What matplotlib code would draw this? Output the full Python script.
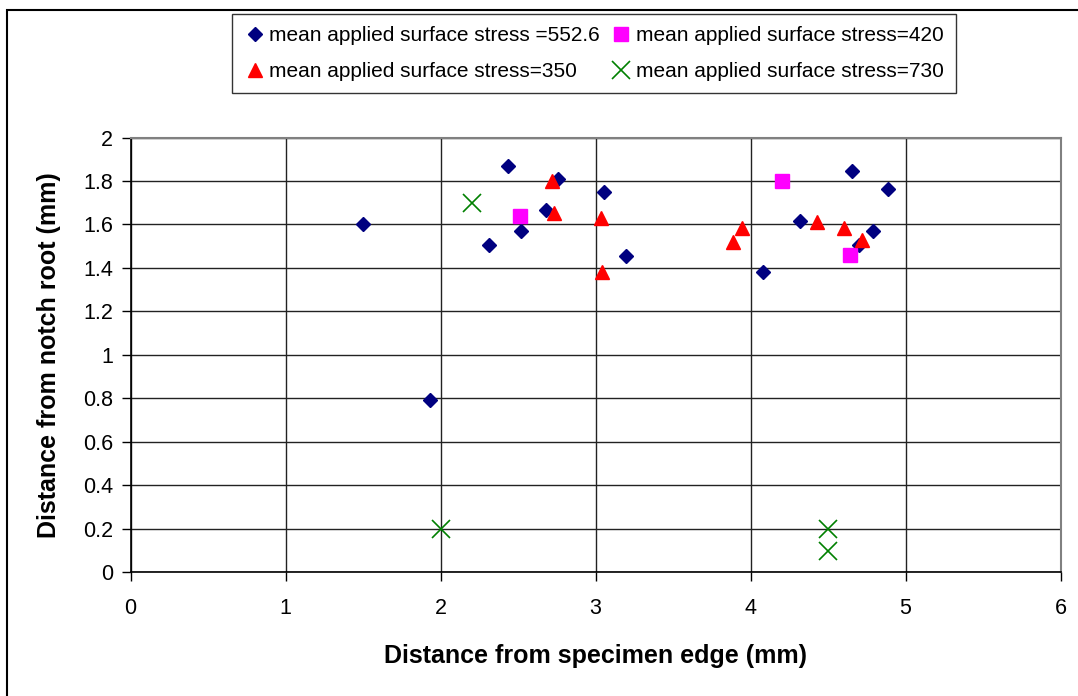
import matplotlib
matplotlib.use('Agg')
import matplotlib.pyplot as plt
from matplotlib.patches import Rectangle

plt.rcParams['font.family'] = ['Liberation Sans', 'DejaVu Sans']

# mean applied surface stress = 552.6
x_5526 = [1.50, 1.935, 2.31, 2.434, 2.52, 2.68, 2.76, 3.055, 3.195, 4.08, 4.32, 4.655, 4.70, 4.79, 4.89]
y_5526 = [1.60, 0.793, 1.505, 1.87, 1.57, 1.665, 1.81, 1.75, 1.455, 1.38, 1.615, 1.845, 1.505, 1.57, 1.765]

# mean applied surface stress = 420
x_420 = [2.51, 4.205, 4.64]
y_420 = [1.64, 1.80, 1.46]

# mean applied surface stress = 350
x_350 = [2.72, 2.73, 3.035, 3.045, 3.89, 3.945, 4.43, 4.605, 4.72]
y_350 = [1.80, 1.655, 1.63, 1.38, 1.52, 1.585, 1.61, 1.585, 1.53]

# mean applied surface stress = 730
x_730 = [2.2, 2.0, 4.5, 4.5]
y_730 = [1.7, 0.2, 0.2, 0.1]

labels = ['mean applied surface stress =552.6', 'mean applied surface stress=420',
          'mean applied surface stress=350', 'mean applied surface stress=730']

fig = plt.figure(figsize=(10.78, 6.96), dpi=100)

# cornice esterna del grafico
fig.patches.append(Rectangle((7 / 1078, -0.1), 1.2, 1.1 - 10 / 696, transform=fig.transFigure,
                             fill=False, edgecolor='black', linewidth=1.5, zorder=0))

ax = fig.add_axes([130.5 / 1078, 1 - 572.3 / 696, 930 / 1078, (572.3 - 137.5) / 696])

h1, = ax.plot(x_5526, y_5526, linestyle='none', marker='D', ms=7, color='#000080', zorder=3)
h2, = ax.plot(x_420, y_420, linestyle='none', marker='s', ms=9.5, color='#FF00FF', zorder=3)
h3, = ax.plot(x_350, y_350, linestyle='none', marker='^', ms=9.5, color='#FF0000', zorder=3)
h4, = ax.plot(x_730, y_730, linestyle='none', marker='x', ms=12.5, mew=1.2, color='#008000', zorder=3)

ax.set_xlim(0, 6)
ax.set_ylim(0, 2)
ax.set_xticks(range(0, 7))
ax.set_xticklabels([str(i) for i in range(0, 7)])
yt = [0, 0.2, 0.4, 0.6, 0.8, 1, 1.2, 1.4, 1.6, 1.8, 2]
ax.set_yticks(yt)
ax.set_yticklabels(['0', '0.2', '0.4', '0.6', '0.8', '1', '1.2', '1.4', '1.6', '1.8', '2'])

ax.grid(True, color='#222222', linewidth=1.0)
ax.set_axisbelow(True)
ax.tick_params(direction='out', length=6.5, width=1, labelsize=15.5)
ax.tick_params(axis='x', pad=12)
ax.tick_params(axis='y', pad=6)

for s in ['top', 'right']:
    ax.spines[s].set_color('#808080')
    ax.spines[s].set_linewidth(1.5)
for s in ['left', 'bottom']:
    ax.spines[s].set_color('black')
    ax.spines[s].set_linewidth(1.2)

ax.set_xlabel('Distance from specimen edge (mm)', fontsize=18, fontweight='bold', labelpad=18)
ax.set_ylabel('Distance from notch root (mm)', fontsize=18, fontweight='bold', labelpad=16)

leg = fig.legend([h1, h3, h2, h4], [labels[0], labels[2], labels[1], labels[3]],
                 ncol=2, loc='center', bbox_to_anchor=(594 / 1078, 1 - 53.5 / 696),
                 fontsize=15, frameon=True, fancybox=False, edgecolor='black',
                 handletextpad=0.2, columnspacing=0.5, handlelength=1.0,
                 borderpad=0.6, labelspacing=0.8)
leg.get_frame().set_linewidth(1.0)

plt.savefig('out.png', dpi=100)
